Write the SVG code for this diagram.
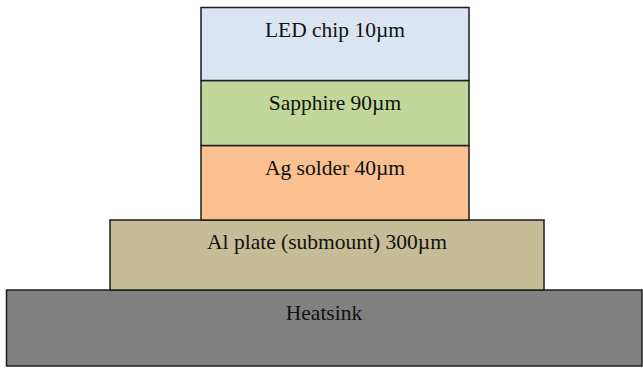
<svg xmlns="http://www.w3.org/2000/svg" width="643" height="369" viewBox="0 0 643 369">
<style>
rect{stroke:#1e1e1e;stroke-width:1.5}
text{font-family:"Liberation Serif","Times New Roman",serif;font-size:21.5px;fill:#111;text-anchor:middle}
</style>
<rect width="643" height="369" fill="#fff" style="stroke:none"/>
<g id="heatsink"><rect x="6.5" y="290" width="635.5" height="76" fill="#808080"/><text x="324" y="320">Heatsink</text></g>
<g id="alplate"><rect x="110" y="220" width="434" height="70" fill="#c4bd97"/><text x="327" y="249">Al plate (submount) 300µm</text></g>
<g id="agsolder"><rect x="201" y="145.5" width="268" height="74.5" fill="#fac090"/><text x="335" y="175">Ag solder 40µm</text></g>
<g id="sapphire"><rect x="201" y="80.5" width="268" height="65" fill="#c3d69b"/><text x="335" y="110">Sapphire 90µm</text></g>
<g id="ledchip"><rect x="201" y="7.5" width="268" height="73" fill="#dbe5f1"/><text x="335" y="37">LED chip 10µm</text></g>
<g id="connectors"/>
</svg>
